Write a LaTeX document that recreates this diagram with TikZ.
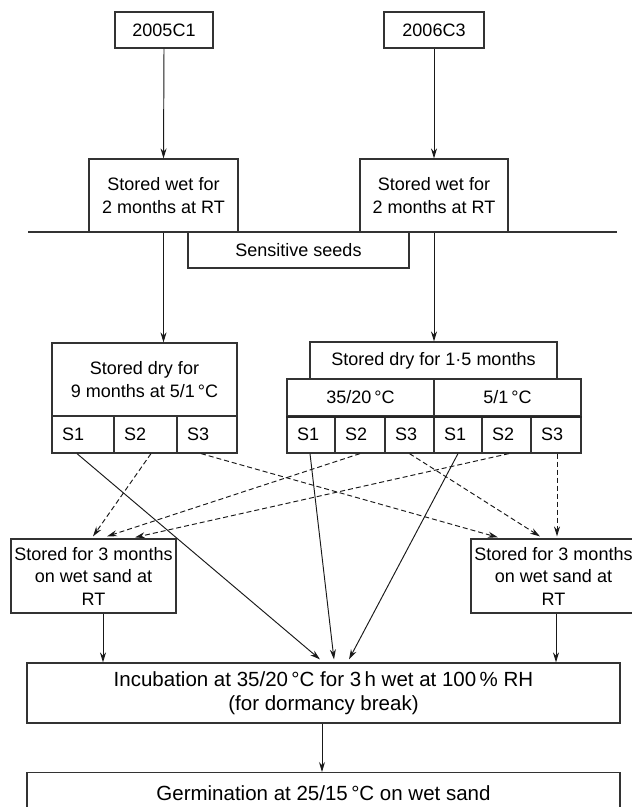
\documentclass[tikz,border=0pt]{standalone}
\usepackage{fontspec}
\setmainfont{Liberation Sans}
\usetikzlibrary{arrows.meta,calc}
\begin{document}
\begin{tikzpicture}[x=1pt,y=-1pt,
  box/.style={draw=black!80,line width=1.2pt,rectangle,inner sep=0pt,align=center,
    font=\fontsize{18}{22.5}\selectfont},
  bigbox/.style={box,font=\fontsize{20.5}{24}\selectfont},
  scell/.style={box,minimum height=37pt,inner xsep=10pt,align=left},
  arr/.style={-{Stealth[length=10pt,width=6pt]},line width=0.95pt,black!90},
  darr/.style={arr,dash pattern=on 5pt off 3pt}]
\useasboundingbox (0,0) rectangle (632,807);
% top
\node[box,minimum width=98pt,minimum height=36pt] (c1) at (164,30) {2005C1};
\node[box,minimum width=100pt,minimum height=36pt] (c3) at (434,30) {2006C3};
\node[box,minimum width=149pt,minimum height=73pt] (wL) at (163.5,195.5) {Stored wet for\\2 months at RT};
\node[box,minimum width=148pt,minimum height=73pt] (wR) at (434,195.5) {Stored wet for\\2 months at RT};
\coordinate (hl1) at (28,232);
\coordinate (hl2) at (617,232);
\draw[line width=1.2pt,black!80] (hl1) -- (hl2);
\node[box,minimum width=221pt,minimum height=36pt] (sens) at (298.5,250) {Sensitive seeds};
% dry storage left
\node[box,minimum width=185pt,minimum height=73pt] (dL) at (144.5,379.5) {Stored dry for\\9 months at 5/1\,°C};
\node[scell,text width=42pt] (sL1) at (83,434.5) {S1};
\node[scell,text width=43pt] (sL2) at (145.5,434.5) {S2};
\node[scell,text width=40pt] (sL3) at (207,434.5) {S3};
% dry storage right
\node[box,minimum width=247pt,minimum height=37pt] (dR) at (433.5,360.5) {Stored dry for 1·5 months};
\node[box,minimum width=147pt,minimum height=37pt] (tA) at (360.5,397.5) {35/20\,°C};
\node[box,minimum width=147pt,minimum height=37pt] (tB) at (507.5,397.5) {5/1\,°C};
\node[scell,text width=28pt] (r1) at (311,434.5) {S1};
\node[scell,text width=30pt] (r2) at (360,434.5) {S2};
\node[scell,text width=29pt] (r3) at (409.5,434.5) {S3};
\node[scell,text width=28pt] (r4) at (458,434.5) {S1};
\node[scell,text width=29pt] (r5) at (506.5,434.5) {S2};
\node[scell,text width=30pt] (r6) at (556,434.5) {S3};
\draw[line width=1.8pt,black!85] (tA.south west) -- (tB.south east);
% wet sand storage
\node[box,minimum width=165pt,minimum height=74pt] (lowL) at (93.5,576) {Stored for 3 months\\on wet sand at\\RT};
\node[box,minimum width=165pt,minimum height=74pt] (lowR) at (553.5,576) {Stored for 3 months\\on wet sand at\\RT};
% incubation / germination
\node[bigbox,minimum width=593pt,minimum height=60pt] (inc) at (323.5,693) {Incubation at 35/20\,°C for 3\,h wet at 100\,\% RH\\(for dormancy break)};
\node[bigbox,minimum width=593pt,minimum height=42pt,anchor=north] (germ) at (323.5,772) {Germination at 25/15\,°C on wet sand};
% connectors
\draw[arr] (c1.south) -- (wL.north);
\draw[arr] (c3.south) -- (wR.north);
\draw[arr] (wL.south) -- (wL.south |- dL.north);
\draw[arr] (wR.south) -- (wR.south |- dR.north);
% solid to incubation
\draw[arr] ($(sL1.south)+(-6,0)$) -- ($(inc.north)+(-3.5,-3)$);
\draw[arr] ($(r1.south)+(-1,0)$) -- ($(inc.north)+(10.5,-3)$);
\draw[arr] (r4.south) -- ($(inc.north)+(25.5,-3)$);
% dashed to left wet sand
\draw[darr] ($(sL2.south)+(5.5,0)$) -- ($(lowL.north)+(-0.5,-2)$);
\draw[darr] (r2.south) -- ($(lowL.north)+(13.5,-2)$);
\draw[darr] ($(r5.south)+(2.5,0)$) -- ($(lowL.north)+(41.5,-1)$);
% dashed to right wet sand
\draw[darr] ($(sL3.south)+(-6,0)$) -- ($(lowR.north)+(-55.5,-1)$);
\draw[darr] (r3.south) -- ($(lowR.north)+(-13.5,-2)$);
\draw[darr] ($(r6.south)+(1,0)$) -- ($(r6.south |- lowR.north)+(1,-2)$);
% wet sand to incubation
\draw[arr] ($(lowL.south)+(9.5,0)$) -- ($(lowL.south |- inc.north)+(9.5,0)$);
\draw[arr] ($(lowR.south)+(2.5,0)$) -- ($(lowR.south |- inc.north)+(2.5,0)$);
\draw[arr] ($(inc.south)+(-1.5,0)$) -- ($(inc.south |- germ.north)+(-1.5,0)$);
\end{tikzpicture}
\end{document}
